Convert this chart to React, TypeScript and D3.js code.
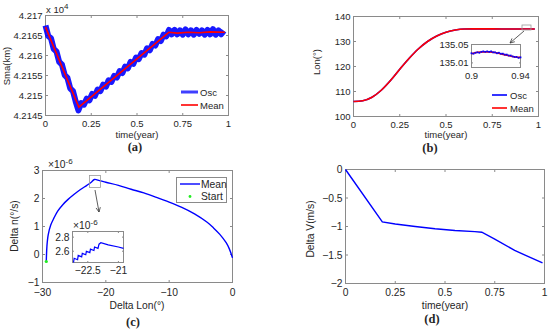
import React from "react";
import * as d3 from "d3";

const SANS = "'Liberation Sans', Arial, sans-serif";
const SERIF = "'Liberation Serif', 'Times New Roman', serif";
const AXIS = "#8a8a8a";
const INK = "#262626";
const BLUE = "#0000ff";
const RED = "#ff0000";
const MINUS = "\u2212";

// (a) semi-major axis, km
const smaOscTime = [
  0, 0.015, 0.03, 0.045, 0.06, 0.075, 0.09, 0.105, 0.12, 0.135, 0.15, 0.165, 0.18, 0.195, 0.21,
  0.225, 0.24, 0.255, 0.27, 0.285, 0.3, 0.315, 0.33, 0.345, 0.36, 0.375, 0.39, 0.405, 0.42, 0.435,
  0.45, 0.465, 0.48, 0.495, 0.51, 0.525, 0.54, 0.555, 0.57, 0.585, 0.6, 0.615, 0.63, 0.645, 0.66,
  0.675, 0.69, 0.705, 0.72, 0.735, 0.75, 0.765, 0.78, 0.795, 0.81, 0.825, 0.84, 0.855, 0.87, 0.885,
  0.9, 0.915, 0.93, 0.945, 0.96, 0.975,
];
const smaOsc = [
  42167.5, 42164.9, 42164.3, 42161.6, 42161.0, 42158.4, 42157.7, 42155.1, 42154.4, 42151.8,
  42151.1, 42148.5, 42146.3, 42148.1, 42147.7, 42149.2, 42148.8, 42150.4, 42149.9, 42151.5,
  42151.1, 42152.7, 42152.2, 42153.8, 42153.4, 42154.9, 42154.5, 42156.1, 42155.6, 42157.2,
  42156.8, 42158.4, 42157.9, 42159.5, 42159.1, 42160.6, 42160.2, 42161.8, 42161.3, 42162.9,
  42162.5, 42164.1, 42163.6, 42165.2, 42164.8, 42166.4, 42165.3, 42166.4, 42165.3, 42166.3,
  42165.2, 42166.5, 42165.3, 42166.3, 42165.2, 42166.4, 42165.4, 42166.3, 42165.2, 42166.4,
  42165.3, 42166.6, 42165.2, 42166.3, 42165.3, 42166.2,
];
const smaMeanTime = [0, 0.182, 0.674, 0.72, 0.78, 0.84, 0.9, 0.98];
const smaMean = [42167.1, 42147.1, 42165.8, 42165.6, 42165.8, 42165.7, 42165.9, 42165.8];

// (b) longitude, deg
const lonTime = [0, 0.05, 0.1, 0.15, 0.2, 0.25, 0.3, 0.35, 0.4, 0.45, 0.5, 0.55, 0.6, 0.65, 0.7, 0.8, 0.9, 0.98];
const lon = [106, 106.3, 107.7, 110.5, 114.4, 118.9, 123.2, 127, 130, 132.2, 133.7, 134.6, 135.0, 135.05, 135.04, 135.03, 135.03, 135.03];
const lonZoomTime = [0.9, 0.905, 0.91, 0.915, 0.92, 0.925, 0.93, 0.935, 0.94];
const lonZoomMean = [135.03, 135.033, 135.034, 135.034, 135.032, 135.029, 135.026, 135.023, 135.022];
const lonZoomOscTime = [
  0.9, 0.9016, 0.9032, 0.9048, 0.9064, 0.908, 0.9096, 0.9112, 0.9128, 0.9144, 0.916, 0.9176, 0.9192,
  0.9208, 0.9224, 0.924, 0.9256, 0.9272, 0.9288, 0.9304, 0.932, 0.9336, 0.9352, 0.9368, 0.9384, 0.94,
];
const lonZoomOsc = [
  135.031, 135.030, 135.032, 135.033, 135.032, 135.034, 135.035, 135.034, 135.035, 135.034, 135.035,
  135.033, 135.033, 135.031, 135.032, 135.030, 135.030, 135.028, 135.028, 135.026, 135.026, 135.024,
  135.023, 135.023, 135.021, 135.022,
];

// (c) delta mean motion (x1e-6 deg/s) vs delta longitude (deg)
const dLon = [
  -29.4, -29.3, -29.1, -28.7, -28.2, -27.6, -26.8, -26, -25, -24, -23, -22.3, -21.8, -21, -20,
  -18, -16, -14, -12, -10, -8, -6, -4, -3, -2, -1, -0.5, 0,
];
const dN = [
  -0.25, 0.3, 0.7, 1.05, 1.3, 1.55, 1.78, 1.96, 2.15, 2.32, 2.47, 2.58, 2.68, 2.64, 2.58,
  2.47, 2.33, 2.2, 2.04, 1.87, 1.68, 1.45, 1.15, 0.95, 0.72, 0.42, 0.2, -0.12,
];
const startLon = [-29.4];
const startN = [-0.25];
const zoomLon = [
  -23.2, -23.17, -23.0, -22.97, -22.8, -22.77, -22.6, -22.57, -22.4, -22.37, -22.2, -22.17, -22.0,
  -21.95, -21.86, -21.5, -21.0, -20.75,
];
const zoomN = [
  2.44, 2.5, 2.48, 2.54, 2.52, 2.57, 2.55, 2.6, 2.58, 2.63, 2.61, 2.66, 2.64, 2.7, 2.72, 2.69, 2.66, 2.64,
];

// (d) delta V, m/s
const dvTime = [0, 0.185, 0.25, 0.35, 0.45, 0.55, 0.65, 0.685, 0.75, 0.85, 0.99];
const dv = [0, -0.92, -0.955, -1.0, -1.04, -1.07, -1.09, -1.1, -1.22, -1.42, -1.64];

const fmtNum = (v: number) => {
  const s = String(+v.toFixed(4));
  return s.startsWith("-") ? MINUS + s.slice(1) : s;
};

type Scale = d3.ScaleLinear<number, number>;

function Frame({ x, y, xt, yt, fs, yFmt = fmtNum, xFmt = fmtNum, tick = 2.5, bg, xGap = 1.5 }: {
  x: Scale; y: Scale; xt: number[]; yt: number[]; fs: number;
  yFmt?: (v: number) => string; xFmt?: (v: number) => string; tick?: number; bg?: string; xGap?: number;
}) {
  const [x0, x1] = x.range();
  const [y0, y1] = y.range();
  return (
    <g fontFamily={SANS} fontSize={fs} fill={INK}>
      {bg && <rect x={x0} y={y1} width={x1 - x0} height={y0 - y1} fill={bg} />}
      {xt.map((v) => (
        <g key={"x" + v}>
          <line x1={x(v)} x2={x(v)} y1={y0} y2={y0 - tick} stroke={AXIS} />
          <line x1={x(v)} x2={x(v)} y1={y1} y2={y1 + tick} stroke={AXIS} />
          <text x={x(v)} y={y0 + fs + xGap} textAnchor="middle">{xFmt(v)}</text>
        </g>
      ))}
      {yt.map((v) => (
        <g key={"y" + v}>
          <line x1={x0} x2={x0 + tick} y1={y(v)} y2={y(v)} stroke={AXIS} />
          <line x1={x1} x2={x1 - tick} y1={y(v)} y2={y(v)} stroke={AXIS} />
          <text x={x0 - 3} y={y(v) + fs * 0.35} textAnchor="end">{yFmt(v)}</text>
        </g>
      ))}
      <rect x={x0} y={y1} width={x1 - x0} height={y0 - y1} fill="none" stroke={AXIS} />
    </g>
  );
}

function path(xs: number[], ys: number[], x: Scale, y: Scale, curve: d3.CurveFactory = d3.curveLinear) {
  return (
    d3
      .line<number>()
      .x((_, i) => x(xs[i]))
      .y((v) => y(v))
      .curve(curve)(ys) || ""
  );
}

function Arrow({ x1, y1, x2, y2 }: { x1: number; y1: number; x2: number; y2: number }) {
  const a = Math.atan2(y2 - y1, x2 - x1);
  const h = 5;
  const p1 = [x2 - h * Math.cos(a - 0.45), y2 - h * Math.sin(a - 0.45)];
  const p2 = [x2 - h * Math.cos(a + 0.45), y2 - h * Math.sin(a + 0.45)];
  return (
    <g>
      <line x1={x1} y1={y1} x2={x2} y2={y2} stroke="#333" strokeWidth={0.8} />
      <path d={`M${p1[0]},${p1[1]}L${x2},${y2}L${p2[0]},${p2[1]}`} fill="none" stroke="#333" strokeWidth={0.8} />
    </g>
  );
}

export default function App() {
  // panel (a)
  const xA = d3.scaleLinear().domain([0, 1]).range([45.5, 228.5]);
  const yA = d3.scaleLinear().domain([42145, 42170]).range([115.5, 15.5]);
  // panel (b)
  const xB = d3.scaleLinear().domain([0, 1]).range([353.5, 538.5]);
  const yB = d3.scaleLinear().domain([100, 140]).range([116.5, 16.5]);
  const xBi = d3.scaleLinear().domain([0.9, 0.94]).range([471.5, 520.5]);
  const yBi = d3.scaleLinear().domain([135.0, 135.05]).range([67.5, 44.5]);
  // panel (c)
  const xC = d3.scaleLinear().domain([-30, 0]).range([42.5, 232.5]);
  const yC = d3.scaleLinear().domain([-1, 3]).range([282.5, 170.5]);
  const xCi = d3.scaleLinear().domain([-23.25, -20.75]).range([72.5, 123.5]);
  const yCi = d3.scaleLinear().domain([2.44, 2.88]).range([262.5, 231.5]);
  // panel (d)
  const xD = d3.scaleLinear().domain([0, 1]).range([345.5, 544.5]);
  const yD = d3.scaleLinear().domain([-2, 0]).range([283.5, 169.5]);

  const tYear = [0, 0.25, 0.5, 0.75, 1];

  return (
    <svg width={550} height={332} style={{ position: "absolute", left: 0, top: 0, background: "#fff" }}>
      {/* (a) */}
      <Frame x={xA} y={yA} xt={tYear} yt={[42145, 42150, 42155, 42160, 42165, 42170]} fs={9.5}
        yFmt={(v) => fmtNum(v / 1e4)} />
      <path d={path(smaOscTime, smaOsc, xA, yA)} fill="none" stroke={BLUE} strokeWidth={6}
        strokeLinejoin="round" opacity={0.9} />
      <path d={path(smaMeanTime, smaMean, xA, yA)} fill="none" stroke={RED} strokeWidth={1.6} />
      <text x={46} y={13} fontFamily={SANS} fontSize={9.5} fill={INK}>
        x 10<tspan dy={-4} fontSize={8}>4</tspan>
      </text>
      <g fontFamily={SANS} fontSize={9.5} fill={INK}>
        <line x1={181} x2={198} y1={92} y2={92} stroke={BLUE} strokeWidth={3} opacity={0.75} />
        <text x={200} y={95.5}>Osc</text>
        <line x1={181} x2={198} y1={105} y2={105} stroke={RED} strokeWidth={1.6} />
        <text x={200} y={108.5}>Mean</text>
        <text x={137} y={137.5} textAnchor="middle">time(year)</text>
        <text transform="translate(9.5,66) rotate(-90)" textAnchor="middle">Sma(km)</text>
      </g>
      <text x={135} y={151} textAnchor="middle" fontFamily={SERIF} fontWeight="bold" fontSize={12.5} fill={INK}>(a)</text>

      {/* (b) */}
      <Frame x={xB} y={yB} xt={tYear} yt={[100, 110, 120, 130, 140]} fs={9.5} />
      <path d={path(lonTime, lon, xB, yB, d3.curveMonotoneX)} fill="none" stroke={BLUE} strokeWidth={1.6} />
      <path d={path(lonTime, lon, xB, yB, d3.curveMonotoneX)} fill="none" stroke={RED} strokeWidth={1.6} />
      <rect x={522} y={25} width={9} height={5} fill="none" stroke="#9a9a9a" strokeWidth={0.8} />
      <Arrow x1={524} y1={31} x2={510} y2={43} />
      <Frame x={xBi} y={yBi} xt={[0.9, 0.94]} yt={[135.01, 135.05]} fs={9.5} tick={1.5} bg="#fff" />
      <path d={path(lonZoomTime, lonZoomMean, xBi, yBi, d3.curveMonotoneX)} fill="none" stroke={RED} strokeWidth={1.6} />
      {lonZoomOsc.map((v, i) => (
        <rect key={i} x={xBi(lonZoomOscTime[i]) - 0.9} y={yBi(v) - 0.9} width={1.8} height={1.8} fill={BLUE} />
      ))}
      <g fontFamily={SANS} fontSize={9.5} fill={INK}>
        <line x1={492} x2={507} y1={95} y2={95} stroke={BLUE} strokeWidth={1.6} />
        <text x={510} y={98.5}>Osc</text>
        <line x1={492} x2={507} y1={108} y2={108} stroke={RED} strokeWidth={1.6} />
        <text x={510} y={111.5}>Mean</text>
        <text x={446} y={138} textAnchor="middle">time(year)</text>
        <text transform="translate(320,62) rotate(-90)" textAnchor="middle">Lon(°)</text>
      </g>
      <text x={430} y={152} textAnchor="middle" fontFamily={SERIF} fontWeight="bold" fontSize={12.5} fill={INK}>(b)</text>

      {/* (c) */}
      <Frame x={xC} y={yC} xt={[-30, -20, -10, 0]} yt={[-1, 0, 1, 2, 3]} fs={10.3} xGap={3} />
      <path d={path(dLon, dN, xC, yC, d3.curveCatmullRom)} fill="none" stroke={BLUE} strokeWidth={1.4} />
      {startLon.map((v, i) => (
        <circle key={i} cx={xC(v)} cy={yC(startN[i])} r={1.6} fill="#22ee22" />
      ))}
      <rect x={89.5} y={175.5} width={11} height={12} fill="none" stroke="#9a9a9a" strokeWidth={0.8} />
      <Arrow x1={95} y1={190} x2={99} y2={212} />
      <text x={48} y={168} fontFamily={SANS} fontSize={10.3} fill={INK}>
        ×10<tspan dy={-4.5} fontSize={8}>-6</tspan>
      </text>
      <g fontFamily={SANS} fontSize={10.3} fill={INK}>
        <rect x={176.5} y={177.5} width={50} height={25} fill="#fff" stroke={AXIS} />
        <line x1={180} x2={200} y1={184} y2={184} stroke={BLUE} strokeWidth={1.4} />
        <text x={201} y={187.5}>Mean</text>
        <circle cx={190} cy={196.5} r={1.4} fill="#22ee22" />
        <text x={201} y={200}>Start</text>
        <text x={137} y={308.5} textAnchor="middle">Delta Lon(°)</text>
        <text transform="translate(18,226) rotate(-90)" textAnchor="middle">Delta n(°/s)</text>
      </g>
      <Frame x={xCi} y={yCi} xt={[-22.5, -21]} yt={[2.6, 2.8]} fs={10.3} tick={1.5} bg="#fff" />
      <path d={path(zoomLon, zoomN, xCi, yCi)} fill="none" stroke={BLUE} strokeWidth={1.2} />
      <text x={73} y={229} fontFamily={SANS} fontSize={10.3} fill={INK}>
        ×10<tspan dy={-4.5} fontSize={8}>-6</tspan>
      </text>
      <text x={133} y={325.5} textAnchor="middle" fontFamily={SERIF} fontWeight="bold" fontSize={12.5} fill={INK}>(c)</text>

      {/* (d) */}
      <Frame x={xD} y={yD} xt={tYear} yt={[-2, -1.5, -1, -0.5, 0]} fs={10.3} xGap={2.5} />
      <path d={path(dvTime, dv, xD, yD)} fill="none" stroke={BLUE} strokeWidth={1.4} />
      <g fontFamily={SANS} fontSize={10.3} fill={INK}>
        <text x={445} y={309} textAnchor="middle">time(year)</text>
        <text transform="translate(314,229) rotate(-90)" textAnchor="middle">Delta V(m/s)</text>
      </g>
      <text x={432} y={322.5} textAnchor="middle" fontFamily={SERIF} fontWeight="bold" fontSize={12.5} fill={INK}>(d)</text>
    </svg>
  );
}
